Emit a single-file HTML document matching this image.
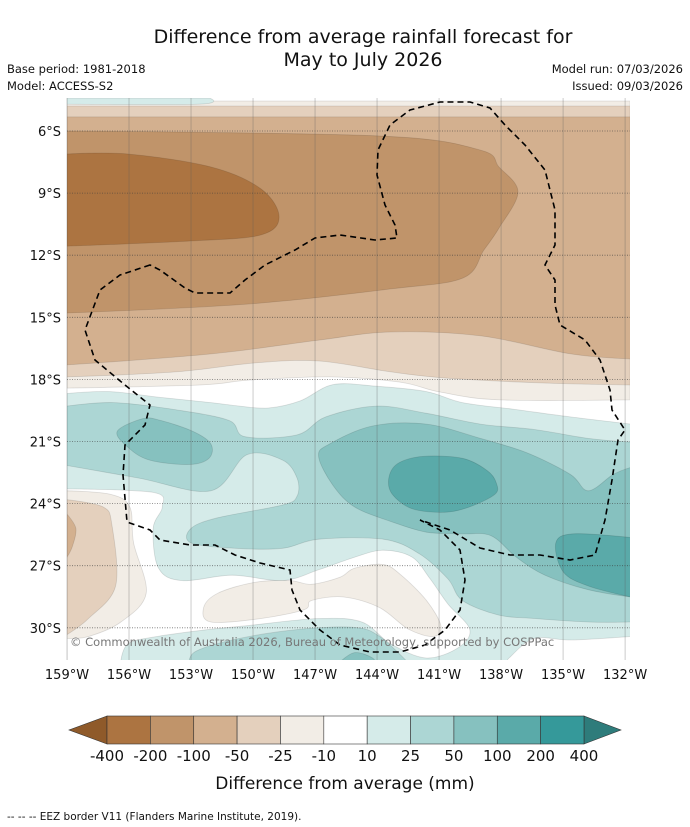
<!DOCTYPE html>
<html><head><meta charset="utf-8"><style>
body{margin:0;background:#fff;width:690px;height:827px;overflow:hidden;font-family:"DejaVu Sans","Liberation Sans",sans-serif}
svg{position:absolute;left:0;top:0;font-family:"DejaVu Sans","Liberation Sans",sans-serif}
</style></head><body>
<svg id="chart" width="690" height="827" viewBox="0 0 690 827" xmlns="http://www.w3.org/2000/svg">
<text x="363" y="43" font-size="19" text-anchor="middle" fill="#111">Difference from average rainfall forecast for</text>
<text x="363" y="66" font-size="19" text-anchor="middle" fill="#111">May to July 2026</text>
<text x="7" y="73" font-size="11.5" fill="#111">Base period: 1981-2018</text>
<text x="7" y="90" font-size="11.5" fill="#111">Model: ACCESS-S2</text>
<text x="683" y="73" font-size="11.5" text-anchor="end" fill="#111">Model run: 07/03/2026</text>
<text x="683" y="90" font-size="11.5" text-anchor="end" fill="#111">Issued: 09/03/2026</text>
<defs><clipPath id="plotclip"><rect x="67" y="98" width="563" height="562"/></clipPath></defs>
<g id="fills" clip-path="url(#plotclip)"></g>
<g id="grid"></g>
<path clip-path="url(#plotclip)" fill="none" stroke="#000" stroke-width="1.6" stroke-dasharray="6,4" d="M150,265 L120,275 L100,290 L85,330 L95,360 L125,385 L150,405 L145,425 L125,445 L123,475 L127,522 L150,530 L160,540 L190,545 L215,545 L235,555 L260,563 L290,570 L292,590 L300,610 L320,630 L340,645 L370,652 L400,652 L425,645 L445,630 L460,610 L465,580 L460,550 L440,530 L420,520 L450,530 L480,548 L510,555 L540,555 L570,560 L595,555 L605,520 L612,480 L618,440 L625,430 L612,410 L610,390 L600,360 L585,340 L560,325 L555,305 L555,280 L545,265 L555,245 L555,210 L545,170 L525,145 L505,125 L490,108 L470,102 L440,102 L410,110 L390,125 L378,150 L377,175 L385,205 L395,225 L397,238 L375,240 L340,235 L315,238 L295,250 L265,265 L245,280 L230,293 L195,293 L185,288 L160,270 Z"/>
<text x="70" y="646" font-size="11.5" fill="#777">© Commonwealth of Australia 2026, Bureau of Meteorology, supported by COSPPac</text>
<g id="axes"></g>
<g id="colorbar"></g>
<text x="345" y="789" font-size="17" text-anchor="middle" fill="#111">Difference from average (mm)</text>
<text x="7" y="820" font-size="10.5" fill="#111">--  --  -- EEZ border V11 (Flanders Marine Institute, 2019).</text>
</svg>
<script>
// Axis ticks
const lonTicks = [159,156,153,150,147,144,141,138,135,132];
const latTicks = [6,9,12,15,18,21,24,27,30];
// Contour levels and colours
const levelLabels = ["-400","-200","-100","-50","-25","-10","10","25","50","100","200","400"];
const levelColors = ["#ac7441","#c0946a","#d3b08f","#e4d0bd","#f2ede6","#ffffff","#d5ebe9","#acd6d4","#86c1bf","#5aaaa9","#35999a"];
// Contour polygons as [lon °W, lat °S], painted in order with level index
const tealStrip = [[159,4.41],[152.1,4.41],[152.57,4.7],[159,4.7]];
const brownA = [[159,4.55],[131.76,4.55],[131.76,18.99],[138.05,18.99],[140.95,18.61],[142.89,18.13],[146.28,17.88],[150.15,18.03],[152.57,18.27],[159,18.42]];
const brownB = [[159,4.79],[131.76,4.79],[131.76,18.27],[136.12,18.17],[140.71,17.93],[143.33,17.64],[146.81,17.11],[149.95,17.21],[153.77,17.64],[159,17.88]];
const brownC = [[159,5.32],[131.76,5.32],[131.71,17.01],[134.62,16.77],[138.97,15.90],[143.33,15.71],[146.81,16.10],[152.03,16.77],[159,17.30]];
const brownD = [[159,6.0],[143.86,6.24],[139.02,6.92],[138.10,7.74],[137.18,8.95],[138.10,10.69],[138.83,11.75],[139.84,13.10],[143.33,13.63],[150.29,14.36],[159,14.79]];
const brownE = [[159,7.11],[156.05,7.11],[152.03,7.74],[149.61,8.80],[148.74,10.15],[149.61,11.02],[152.90,11.31],[159,11.56]];
const teal1 = [[159,18.68],[156.91,18.59],[154.65,18.85],[152.04,19.12],[150.65,19.29],[149.26,19.38],[147.70,19.03],[146.13,18.25],[144.04,18.33],[141.61,18.59],[139.87,19.12],[137.26,19.46],[134.65,19.81],[131.73,20.16],[131.73,31.6],[159,31.6]];
const white1 = [[159,23.29],[154.83,23.46],[154.39,24.16],[154.83,25.2],[154.57,27.12],[153.43,27.72],[151.0,27.46],[148.57,27.72],[146.83,27.20],[145.09,26.59],[143.7,26.25],[142.3,26.59],[141.43,27.64],[140.57,28.85],[139.52,30.07],[140.04,30.94],[141.61,31.46],[143.35,30.77],[144.74,29.72],[146.83,29.55],[150.3,29.90],[152.04,30.07],[154.65,30.42],[156.04,30.77],[156.39,31.6],[159,31.6]];
const white2 = [[131.73,30.42],[134.65,30.59],[136.39,30.51],[137.61,31.46],[137.61,31.6],[131.73,31.6]];
const patch1 = [[159,23.38],[156.91,23.55],[155.96,24.16],[155.78,25.90],[155.17,28.33],[156.39,29.72],[157.96,30.42],[159,30.51]];
const patch2 = [[159,23.81],[157.26,24.16],[156.83,25.03],[156.65,27.98],[157.96,29.55],[159,30.33]];
const patch3 = [[159,24.51],[158.57,25.20],[158.74,26.07],[159,26.59]];
const patch4 = [[152.39,29.03],[151.7,28.33],[149.96,27.81],[148.22,27.72],[147.17,27.90],[145.78,27.55],[145.09,27.12],[143.7,26.94],[142.83,27.46],[141.61,28.68],[140.91,29.90],[141.26,30.42],[142.48,30.07],[143.87,29.03],[145.61,28.51],[147.17,28.68],[147.52,29.12],[149.61,29.55],[152.04,29.72]];
const teal2 = [[159,19.29],[156.74,19.12],[153.78,19.46],[151.17,19.98],[150.39,20.77],[147.87,20.68],[146.48,19.81],[144.04,19.29],[141.61,19.64],[139.0,20.16],[136.39,20.42],[133.78,20.85],[131.73,21.03],[131.73,29.72],[133.78,29.72],[136.39,29.55],[138.13,29.38],[139.87,28.68],[140.57,27.64],[141.96,26.42],[143.70,25.72],[146.83,25.72],[148.57,26.16],[150.83,26.16],[153.0,25.9],[153.0,25.2],[151.7,24.68],[148.57,24.07],[147.87,23.64],[147.87,22.77],[148.57,21.9],[150.3,21.64],[152.04,23.38],[155.52,22.77],[159,22.16]];
const teal2b = [[153.09,31.7],[152.74,31.12],[150.65,30.51],[147.7,30.07],[145.09,29.98],[143.87,30.42],[142.48,31.7]];
const teal3a = [[156.57,20.51],[155.35,19.90],[154.48,19.98],[152.91,20.51],[152.04,21.12],[152.13,21.81],[153.09,22.11],[155.0,21.90],[156.04,21.29]];
const teal3b = [[146.83,21.72],[146.3,21.12],[144.22,20.25],[141.61,20.16],[139.0,20.85],[136.74,21.55],[134.65,22.59],[133.78,23.38],[132.57,22.59],[131.73,22.25],[131.73,28.51],[133.78,28.16],[135.87,27.46],[137.26,26.59],[138.48,25.55],[139.87,25.46],[141.61,25.38],[143.35,24.86],[145.09,24.16],[146.13,23.12]];
const teal3c = [[145.78,31.64],[145.09,31.2],[144.22,31.46],[143.87,31.98],[144.74,32.33]];
const teal4a = [[143.43,22.77],[143.0,22.07],[141.78,21.72],[139.87,21.81],[138.65,22.42],[138.22,23.03],[138.3,23.55],[139.52,24.16],[140.74,24.42],[142.3,24.25],[143.26,23.55]];
const teal4b = [[135.35,25.9],[134.48,25.46],[131.73,25.64],[131.73,28.51],[133.78,27.98],[135.0,27.29]];
const layers = [[brownA,4],[tealStrip,6],[brownB,3],[brownC,2],[brownD,1],[brownE,0],[teal1,6],[white1,5],[white2,5],[patch1,4],[patch2,3],[patch3,2],[patch4,4],[teal2,7],[teal2b,7],[teal3a,8],[teal3b,8],[teal3c,8],[teal4a,9],[teal4b,9]];
const layerNames = ["brown-minus10","teal-strip","brown-minus25","brown-minus50","brown-minus100","brown-minus200","teal-plus10","white-band","white-corner","brown-patch-minus10","brown-patch-minus25","brown-patch-minus50","brown-patch-mid","teal-plus25","teal-plus25-south","teal-plus50-west","teal-plus50-east","teal-plus50-south","teal-plus100-centre","teal-plus100-east"];

const NS="http://www.w3.org/2000/svg";
const xS = lon => 67 + (159 - lon) * 20.67;
const yS = lat => 131 + (lat - 6) * 20.7;
const onEdge = d => d[0]>=158.95 || d[0]<=131.8 || d[1]<=4.45 || d[1]>=31.55;
function smooth(pts){
  const p = pts.map(d=>[xS(d[0]), yS(d[1])]); const n=p.length;
  let s = "M"+p[0][0].toFixed(1)+","+p[0][1].toFixed(1);
  for(let i=0;i<n;i++){
    const j=(i+1)%n;
    const p0=p[(i-1+n)%n],p1=p[i],p2=p[j],p3=p[(i+2)%n];
    if(onEdge(pts[i]) && onEdge(pts[j])){ s+=" L"+p2[0].toFixed(1)+","+p2[1].toFixed(1); continue; }
    let c1=[p1[0]+(p2[0]-p0[0])/6,p1[1]+(p2[1]-p0[1])/6];
    let c2=[p2[0]-(p3[0]-p1[0])/6,p2[1]-(p3[1]-p1[1])/6];
    if(onEdge(pts[i])) c1=p1;
    if(onEdge(pts[j])) c2=p2;
    s+=" C"+c1[0].toFixed(1)+","+c1[1].toFixed(1)+" "+c2[0].toFixed(1)+","+c2[1].toFixed(1)+" "+p2[0].toFixed(1)+","+p2[1].toFixed(1);
  }
  return s+"Z";
}
const fills=document.getElementById("fills");
layers.forEach((L,i)=>{
  const el=document.createElementNS(NS,"path");
  el.setAttribute("d",smooth(L[0]));
  el.setAttribute("fill",levelColors[L[1]]);
  el.setAttribute("stroke","rgba(0,0,0,0.12)");
  el.setAttribute("stroke-width","0.8");
  
  
  fills.appendChild(el);
});
const grid=document.getElementById("grid"), axes=document.getElementById("axes");
lonTicks.forEach(t=>{
  const x=xS(t);
  const l=document.createElementNS(NS,"line");
  l.setAttribute("x1",x);l.setAttribute("x2",x);l.setAttribute("y1",98);l.setAttribute("y2",660);
  l.setAttribute("stroke","rgba(90,90,90,0.45)");l.setAttribute("stroke-width","0.7");
  
  
  grid.appendChild(l);
  const tx=document.createElementNS(NS,"text");
  tx.setAttribute("x",x);tx.setAttribute("y",679);tx.setAttribute("font-size","13");tx.setAttribute("text-anchor","middle");tx.setAttribute("fill","#111");
  tx.textContent=t+"°W";
  
  
  axes.appendChild(tx);
});
latTicks.forEach(t=>{
  const y=yS(t);
  const l=document.createElementNS(NS,"line");
  l.setAttribute("x1",67);l.setAttribute("x2",630);l.setAttribute("y1",y);l.setAttribute("y2",y);
  l.setAttribute("stroke","rgba(60,60,60,0.7)");l.setAttribute("stroke-width","0.8");l.setAttribute("stroke-dasharray","1,1.5");
  
  
  grid.appendChild(l);
  const tx=document.createElementNS(NS,"text");
  tx.setAttribute("x",61);tx.setAttribute("y",y+5);tx.setAttribute("font-size","13");tx.setAttribute("text-anchor","end");tx.setAttribute("fill","#111");
  tx.textContent=t+"°S";
  
  
  axes.appendChild(tx);
});
// colorbar
const cb=document.getElementById("colorbar");
const cx0=107,cx1=584,cy0=716,cy1=744,bw=(cx1-cx0)/levelColors.length;
const la=document.createElementNS(NS,"polygon");
la.setAttribute("points",`${cx0},${cy0} 69,${(cy0+cy1)/2} ${cx0},${cy1}`);la.setAttribute("fill","#8f5a2a");la.setAttribute("stroke","#333");la.setAttribute("stroke-width","0.6");


cb.appendChild(la);
const ra=document.createElementNS(NS,"polygon");
ra.setAttribute("points",`${cx1},${cy0} 621,${(cy0+cy1)/2} ${cx1},${cy1}`);ra.setAttribute("fill","#2e7c7b");ra.setAttribute("stroke","#333");ra.setAttribute("stroke-width","0.6");


cb.appendChild(ra);
levelColors.forEach((c,i)=>{
  const r=document.createElementNS(NS,"rect");
  r.setAttribute("x",cx0+i*bw);r.setAttribute("y",cy0);r.setAttribute("width",bw);r.setAttribute("height",cy1-cy0);
  r.setAttribute("fill",c);r.setAttribute("stroke","#333");r.setAttribute("stroke-width","0.6");
  
  
  cb.appendChild(r);
});
levelLabels.forEach((s,i)=>{
  const tx=document.createElementNS(NS,"text");
  tx.setAttribute("x",cx0+i*bw);tx.setAttribute("y",761);tx.setAttribute("font-size","15");tx.setAttribute("text-anchor","middle");tx.setAttribute("fill","#111");
  tx.textContent=s;
  
  
  cb.appendChild(tx);
});
</script>
</body></html>
